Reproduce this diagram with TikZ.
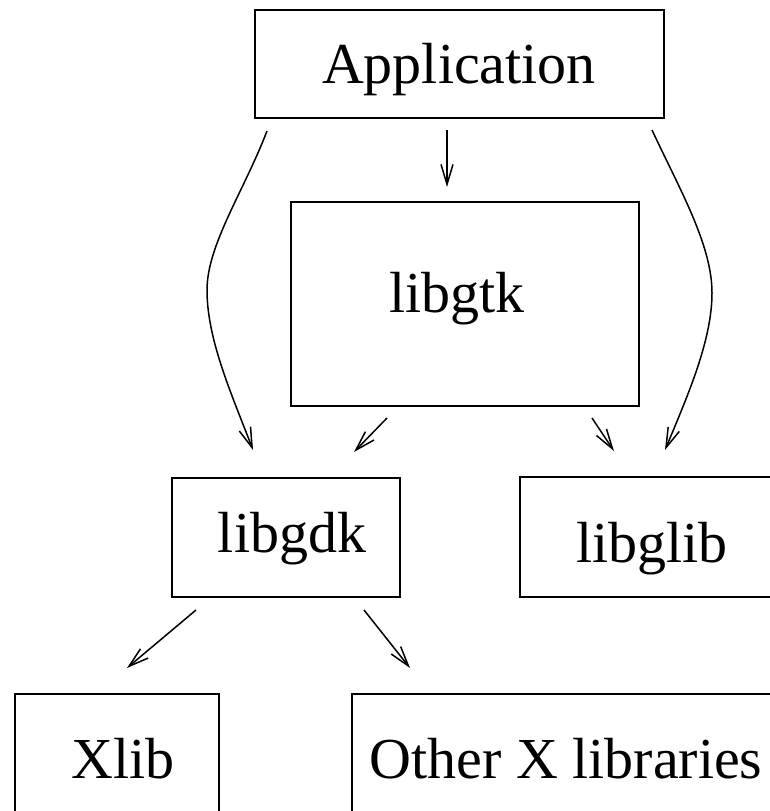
\documentclass[tikz,border=0pt]{standalone}
\usepackage{fontspec}
\setmainfont{Liberation Serif}
\usetikzlibrary{arrows.meta}
\begin{document}
\begin{tikzpicture}[x=1pt,y=-1pt,
  box/.style={draw, line width=1.8pt, minimum width=#1, inner sep=0pt},
  lbl/.style={anchor=base, inner sep=0pt, font=\fontsize{58}{62}\selectfont},
  conn/.style={line width=1.5pt, -{Straight Barb[length=20pt,width=12pt,line width=1.5pt]}}]
\useasboundingbox (0,0) rectangle (770,811);
\clip (0,0) rectangle (770,811);
% boxes
\node[box=409pt, minimum height=108pt] (app)   at (459.5,64) {};
\node[box=348pt, minimum height=204pt] (gtk)   at (465,304) {};
\node[box=228pt, minimum height=119pt] (gdk)   at (286,537.5) {};
\node[box=280pt, minimum height=120pt] (glib)  at (660,537) {};
\node[box=204pt, minimum height=156pt] (xlib)  at (117,772) {};
\node[box=448pt, minimum height=156pt] (other) at (576,772) {};
% labels
\node[lbl] (tapp)   at (459,83)  {Application};
\node[lbl] (tgtk)   at (457,312) {libgtk};
\node[lbl] (tgdk)   at (292,552) {libgdk};
\node[lbl] (tglib)  at (652,562) {libglib};
\node[lbl] (txlib)  at (123,778) {Xlib};
\node[lbl] (tother) at (566,778) {Other X libraries};
% connector ends
\coordinate (a1) at (267,131);
\coordinate (a2) at (447,130);
\coordinate (a3) at (652,130);
\coordinate (g1) at (387,418);
\coordinate (g2) at (592,418);
\coordinate (d1) at (196,610);
\coordinate (d2) at (364,610);
\coordinate (tgdkL) at (253,450);
\coordinate (tgdkR) at (354,452);
\coordinate (tgtkT) at (447,187);
\coordinate (tglibL) at (614,451);
\coordinate (tglibR) at (665,450);
\coordinate (txl) at (127,668);
\coordinate (tot) at (410,668);
% connectors
\draw[conn] (a2) -- (tgtkT);
\draw[conn] (a1) .. controls (244,191) and (207,245) .. (207,290)
                 .. controls (207,340) and (232,395) .. (tgdkL);
\draw[conn] (a3) .. controls (680,190) and (712,245) .. (712,293)
                 .. controls (712,340) and (688,395) .. (tglibR);
\draw[conn] (g1) -- (tgdkR);
\draw[conn] (g2) -- (tglibL);
\draw[conn] (d1) -- (txl);
\draw[conn] (d2) -- (tot);
\end{tikzpicture}
\end{document}
